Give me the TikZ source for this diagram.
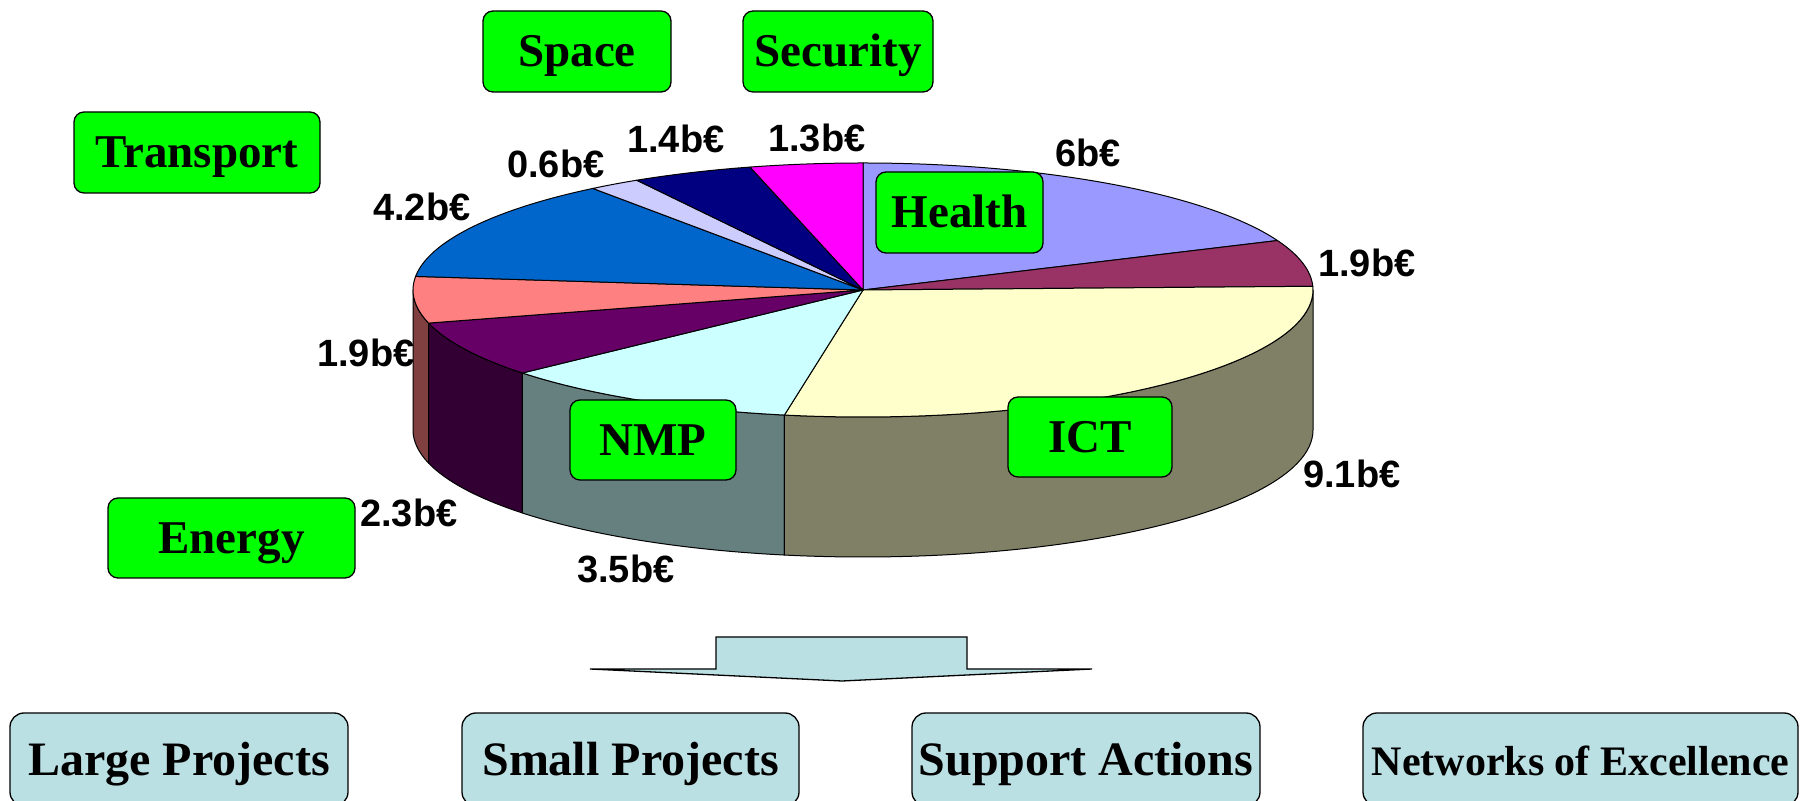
\documentclass[tikz,border=0pt]{standalone}
\usepackage{fontspec}
\setmainfont{Liberation Serif}
\newfontfamily\arialfont{Liberation Sans}
\definecolor{cHealth}{HTML}{9999FF}
\definecolor{cFood}{HTML}{993366}
\definecolor{cICT}{HTML}{FFFFCC}
\definecolor{cNMP}{HTML}{CCFFFF}
\definecolor{cEnergy}{HTML}{660066}
\definecolor{cEnv}{HTML}{FF8080}
\definecolor{cTransport}{HTML}{0066CC}
\definecolor{cSSH}{HTML}{CCCCFF}
\definecolor{cSpace}{HTML}{000080}
\definecolor{cSecurity}{HTML}{FF00FF}
\definecolor{sEnv}{HTML}{804040}
\definecolor{sEnergy}{HTML}{330033}
\definecolor{sNMP}{HTML}{668080}
\definecolor{sICT}{HTML}{808066}
\definecolor{projblue}{RGB}{187,224,227}
\definecolor{boxgreen}{RGB}{0,255,0}
\newcommand\myslice[3]{\filldraw[fill=#3,draw=black,line width=1pt,line join=round] (0,0) -- (#1:450pt and 127pt) arc[start angle=#1,end angle=#2,x radius=450pt,y radius=127pt] -- cycle;}
\newcommand\myside[3]{\filldraw[fill=#3,draw=black,line width=1pt,line join=round] (#1:450pt and 127pt) arc[start angle=#1,end angle=#2,x radius=450pt,y radius=127pt] -- ++(0,-140) arc[start angle=#2,end angle=#1,x radius=450pt,y radius=127pt] -- cycle;}
\begin{document}
\begin{tikzpicture}[x=1pt,y=1pt,
  amount/.style={font=\arialfont\bfseries\fontsize{38}{40}\selectfont,anchor=base west,inner sep=0pt},
  greenbox/.style={draw=black,fill=boxgreen,rounded corners=10pt,line width=1.3pt,
    font=\bfseries\fontsize{47}{50}\selectfont,text height=31pt,text depth=0pt,inner sep=0pt},
  projbox/.style={draw=black,fill=projblue,rounded corners=14pt,line width=1.3pt,
    font=\bfseries\fontsize{48}{50}\selectfont,text height=31pt,text depth=0pt,inner sep=0pt,minimum height=93pt}]
\useasboundingbox (0,0) rectangle (1811,800);
% amount labels
\node[amount] (a13) at (768,648) {1.3b€};
\node[amount] (a14) at (627,647) {1.4b€};
\node[amount] (a06) at (507,622) {0.6b€};
\node[amount] (a42) at (373,579) {4.2b€};
\node[amount] (a6) at (1055,633) {6b€};
\node[amount] (a19r) at (1318,523) {1.9b€};
\node[amount] (a91) at (1303,312) {9.1b€};
\node[amount] (a19l) at (317,433) {1.9b€};
\node[amount] (a23) at (360,273) {2.3b€};
\node[amount] (a35) at (577,217) {3.5b€};
% pie
\begin{scope}[shift={(863,510)}]
\myside{-180}{-164.90}{sEnv}
\myside{-164.90}{-139.19}{sEnergy}
\myside{-139.19}{-100.06}{sNMP}
\myside{-100.06}{0}{sICT}
\myslice{90}{22.92}{cHealth}
\myslice{22.92}{1.68}{cFood}
\myslice{1.68}{-100.06}{cICT}
\myslice{-100.06}{-139.19}{cNMP}
\myslice{-139.19}{-164.90}{cEnergy}
\myslice{-164.90}{-186.14}{cEnv}
\myslice{-186.14}{-233.10}{cTransport}
\myslice{-233.10}{-239.81}{cSSH}
\myslice{-239.81}{-255.46}{cSpace}
\myslice{-255.46}{-270}{cSecurity}
\end{scope}
% theme boxes
\node[greenbox,minimum width=188pt,minimum height=81pt] (space) at (577,748.5) {Space};
\node[greenbox,minimum width=190pt,minimum height=81pt] (security) at (838,748.5) {Security};
\node[greenbox,minimum width=246pt,minimum height=81pt] (transport) at (197,647.5) {Transport};
\node[greenbox,minimum width=167pt,minimum height=81pt] (health) at (959.5,587.5) {Health};
\node[greenbox,minimum width=166pt,minimum height=80pt] (nmp) at (653,360) {NMP};
\node[greenbox,minimum width=164pt,minimum height=80pt] (ict) at (1090,363) {ICT};
\node[greenbox,minimum width=247pt,minimum height=80pt] (energy) at (231.5,262) {Energy};
% arrow
\filldraw[fill=projblue,draw=black,line width=1.3pt,line join=miter] (716,131) -- (716,163) -- (967,163) -- (967,131) -- (1092,131) -- (842,119) -- (590,131) -- cycle;
% project boxes
\node[projbox,minimum width=338pt] (large) at (179,40.5) {Large Projects};
\node[projbox,minimum width=337pt] (small) at (630.5,40.5) {Small Projects};
\node[projbox,minimum width=348pt] (support) at (1086,40.5) {Support Actions};
\node[projbox,minimum width=435pt,font=\bfseries\fontsize{42}{44}\selectfont] (noe) at (1580.5,40.5) {Networks of Excellence};
\end{tikzpicture}
\end{document}
